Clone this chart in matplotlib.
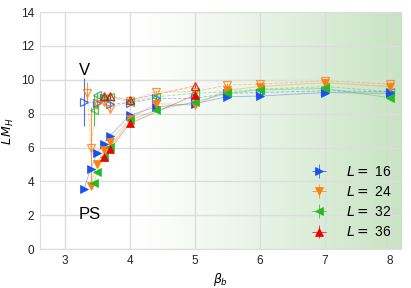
import numpy as np
import matplotlib
matplotlib.use("Agg")
import matplotlib.pyplot as plt

# ---- data ----
labels = ["16", "24", "32", "36"]
colors = ["#1a4ff0", "#ff7f0e", "#22bb22", "#ee0000"]
markers = [">", "v", "<", "^"]

# PS (filled markers)
ps16_x = [3.3, 3.4, 3.5, 3.6, 3.7, 4.0, 4.4, 5.0, 5.5, 6.0, 7.0, 8.0]
ps16_y = [3.58, 4.75, 5.65, 6.2, 6.7, 7.9, 8.4, 8.6, 9.0, 9.04, 9.25, 9.2]
ps24_x = [3.4, 3.5, 3.6, 3.7, 4.0, 4.4, 5.0, 5.5, 6.0, 7.0, 8.0]
ps24_y = [3.7, 5.05, 5.85, 6.35, 7.7, 8.6, 8.5, 9.4, 9.6, 9.83, 9.6]
ps32_x = [3.45, 3.5, 3.6, 3.7, 4.0, 4.4, 5.0, 5.5, 6.0, 7.0, 8.0]
ps32_y = [3.88, 4.57, 5.45, 6.04, 7.6, 8.2, 8.7, 9.2, 9.4, 9.49, 8.94]
ps36_x = [3.6, 3.7, 4.0, 5.0]
ps36_y = [5.42, 5.89, 7.42, 9.1]

# V (open markers)
v16_x = [3.3, 3.5, 3.6, 3.7, 4.0, 4.4, 5.0, 5.5, 6.0, 7.0, 8.0]
v16_y = [8.7, 8.65, 8.9, 8.55, 8.65, 8.9, 8.9, 9.2, 9.25, 9.35, 9.3]
v16_e = [1.4, 0.2, 0.2, 0.2, 0.1, 0.1, 0.1, 0.1, 0.1, 0.1, 0.1]
v24_x = [3.35, 3.4, 3.5, 3.6, 3.7, 4.0, 4.4, 5.0, 5.5, 6.0, 7.0, 8.0]
v24_y = [9.25, 6.0, 8.6, 8.7, 8.3, 8.75, 9.29, 9.3, 9.69, 9.75, 9.94, 9.75]
v24_e = [0.6, 2.4, 0.3, 0.2, 0.2, 0.1, 0.1, 0.1, 0.1, 0.1, 0.1, 0.1]
v32_x = [3.45, 3.5, 3.6, 3.7, 4.0, 4.4, 5.0, 5.5, 6.0, 7.0, 8.0]
v32_y = [8.2, 9.1, 8.9, 9.0, 8.7, 9.0, 9.2, 9.3, 9.45, 9.6, 9.3]
v32_e = [0.9, 0.2, 0.2, 0.2, 0.1, 0.1, 0.1, 0.1, 0.1, 0.1, 0.1]
v36_x = [3.6, 3.7, 4.0, 5.0]
v36_y = [9.05, 9.05, 8.8, 9.63]
v36_e = [0.2, 0.2, 0.1, 0.1]

ps_x = [ps16_x, ps24_x, ps32_x, ps36_x]
ps_y = [ps16_y, ps24_y, ps32_y, ps36_y]
v_x = [v16_x, v24_x, v32_x, v36_x]
v_y = [v16_y, v24_y, v32_y, v36_y]
v_e = [v16_e, v24_e, v32_e, v36_e]

plt.rcParams['font.family'] = ['Liberation Sans', 'DejaVu Sans']
plt.rcParams['mathtext.fontset'] = 'dejavusans'

fig = plt.figure(figsize=(4.11, 2.88), dpi=100)
ax = fig.add_axes([0.097, 0.135, 0.879, 0.823])

xmin, xmax = 2.62, 8.17
ymin, ymax = 0, 14

# gradient background from x=4 to right edge
grad = np.linspace(0, 1, 256).reshape(1, -1) ** 1.2
c0 = np.array([1.0, 1.0, 1.0])
c1 = np.array([0.78, 0.89, 0.76])
img = c0[None, None, :] * (1 - grad[..., None]) + c1[None, None, :] * grad[..., None]
ax.imshow(img, extent=[4.0, xmax, ymin, ymax], aspect='auto', zorder=0, interpolation='bilinear')

ax.grid(True, color='#dddddd', linewidth=1.0, zorder=1)
ax.set_axisbelow(True)

for i in range(4):
    c = colors[i]
    ax.plot(ps_x[i], ps_y[i], '-', color=c, lw=0.7, alpha=0.35, zorder=2)
    ax.plot(v_x[i], v_y[i], '--', color=c, lw=0.7, alpha=0.35, zorder=2)
    ax.errorbar(v_x[i], v_y[i], yerr=v_e[i], fmt=markers[i], mfc='none', mec=c,
                ecolor=c, elinewidth=0.8, ms=5.5, mew=0.9, alpha=0.8, zorder=3)

handles = []
for i in range(4):
    c = colors[i]
    h = ax.errorbar(ps_x[i], ps_y[i], yerr=0.03, xerr=0.0, fmt=markers[i], color=c,
                    ecolor=c, elinewidth=0.5, ms=5.5, mew=0.5, zorder=4,
                    label=r"$L=$ " + labels[i])
    handles.append(h)

ax.text(3.22, 10.3, "V", fontsize=12, zorder=5)
ax.text(3.22, 1.8, "PS", fontsize=12, zorder=5)

ax.set_xlim(xmin, xmax)
ax.set_ylim(ymin, ymax)
ax.set_xticks([3, 4, 5, 6, 7, 8])
ax.set_yticks(np.arange(0, 15, 2))
ax.tick_params(length=0, labelsize=8.5, colors='#222222', pad=4)
for s in ax.spines.values():
    s.set_color('#dddddd')
ax.spines['top'].set_visible(False)
ax.spines['right'].set_visible(False)

ax.set_xlabel(r"$\beta_b$", fontsize=9, labelpad=3)
ax.set_ylabel(r"$L\,M_H$", fontsize=9, labelpad=4)

leg = ax.legend(handles=handles, loc='lower right', frameon=False, fontsize=10,
                handlelength=2.2, labelspacing=0.45, borderaxespad=0.3,
                bbox_to_anchor=(1.0, 0.0))

fig.savefig("out.png", dpi=100)
